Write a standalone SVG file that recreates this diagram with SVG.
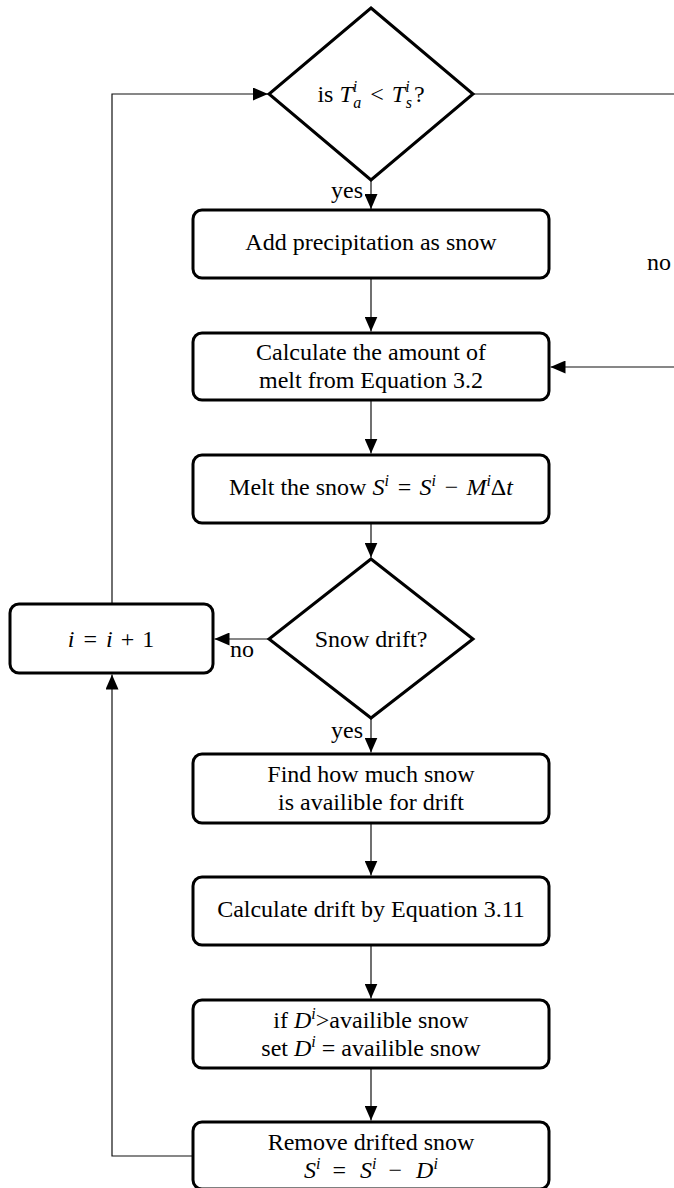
<svg xmlns="http://www.w3.org/2000/svg" width="674" height="1188" viewBox="0 0 674 1188">
  <style>
    .box { fill: #fff; stroke: #000; stroke-width: 3; }
    .dia { fill: #fff; stroke: #000; stroke-width: 3; stroke-linejoin: miter; }
    .edge { fill: none; stroke: #111; stroke-width: 1.2; }
    .t { font-family: "Liberation Serif", "Times New Roman", serif; font-size: 24px; fill: #000; }
    .c { text-anchor: middle; }
    .m { font-style: italic; }
    .s { font-style: italic; font-size: 16px; }
  </style>
  <defs>
    <marker id="arrow" markerUnits="userSpaceOnUse" markerWidth="15" markerHeight="13" refX="15" refY="6.5" orient="auto">
      <path d="M0,0 L15,6.5 L0,13 Z" fill="#000"/>
    </marker>
  </defs>
  <rect width="674" height="1188" fill="#fff"/>

  <!-- connectors -->
  <g id="connectors">
    <path class="edge" d="M371,180 V209" marker-end="url(#arrow)"/>
    <path class="edge" d="M371,278 V331.5" marker-end="url(#arrow)"/>
    <path class="edge" d="M371,400 V453.5" marker-end="url(#arrow)"/>
    <path class="edge" d="M371,523 V557.5" marker-end="url(#arrow)"/>
    <path class="edge" d="M371,718 V752.5" marker-end="url(#arrow)"/>
    <path class="edge" d="M371,823 V875.5" marker-end="url(#arrow)"/>
    <path class="edge" d="M371,945 V998.5" marker-end="url(#arrow)"/>
    <path class="edge" d="M371,1068 V1120.5" marker-end="url(#arrow)"/>
    <!-- "no" branch of the temperature test: leaves to the right, re-enters at the melt step -->
    <path class="edge" d="M473,94 H700 V367 H550.5" marker-end="url(#arrow)"/>
    <!-- no drift: go to the index update -->
    <path class="edge" d="M269,639 H214.5" marker-end="url(#arrow)"/>
    <!-- loop back to the top test -->
    <path class="edge" d="M112,604 V94 H268" marker-end="url(#arrow)"/>
    <!-- after removing drift: back to index update -->
    <path class="edge" d="M193,1156 H112 V674.5" marker-end="url(#arrow)"/>
    <text class="t" x="363" y="198" text-anchor="end">yes</text>
    <text class="t" x="363" y="738" text-anchor="end">yes</text>
    <text class="t" x="230" y="657">no</text>
    <text class="t" x="647" y="270">no</text>
  </g>

  <!-- temperature test -->
  <g id="test-temp">
    <polygon class="dia" points="371,8 473,94 371,180 269,94"/>
    <text class="t c" x="371" y="102">is <tspan class="m">T</tspan><tspan class="s" dy="-10">i</tspan><tspan class="s" dx="-4" dy="16">a</tspan><tspan dy="-6" dx="3"> &lt; </tspan><tspan class="m" dx="2">T</tspan><tspan class="s" dy="-10">i</tspan><tspan class="s" dx="-4" dy="16">s</tspan><tspan dy="-6" dx="2">?</tspan></text>
  </g>

  <g id="add-precip">
    <rect class="box" x="193" y="210" width="356" height="68" rx="9"/>
    <text class="t c" x="371" y="250">Add precipitation as snow</text>
  </g>

  <g id="calc-melt">
    <rect class="box" x="193" y="333" width="356" height="67" rx="9"/>
    <text class="t c" x="371" y="360">Calculate the amount of</text>
    <text class="t c" x="371" y="388">melt from Equation 3.2</text>
  </g>

  <g id="melt-snow">
    <rect class="box" x="193" y="455" width="356" height="68" rx="9"/>
    <text class="t c" x="371" y="495">Melt the snow <tspan class="m">S</tspan><tspan class="s" dy="-9">i</tspan><tspan dy="9" dx="3"> = </tspan><tspan class="m" dx="2">S</tspan><tspan class="s" dy="-9">i</tspan><tspan dy="9" dx="3"> − </tspan><tspan class="m" dx="2">M</tspan><tspan class="s" dy="-9">i</tspan><tspan dy="9">Δ</tspan><tspan class="m">t</tspan></text>
  </g>

  <g id="test-drift">
    <polygon class="dia" points="371,559 473,639 371,718 269,639"/>
    <text class="t c" x="371" y="647">Snow drift?</text>
  </g>

  <g id="increment">
    <rect class="box" x="10" y="604" width="203" height="69" rx="9"/>
    <text class="t c" x="111" y="647"><tspan class="m">i</tspan><tspan dx="3"> = </tspan><tspan class="m" dx="3">i</tspan><tspan dx="2"> + </tspan><tspan dx="2">1</tspan></text>
  </g>

  <g id="find-available">
    <rect class="box" x="193" y="754" width="356" height="69" rx="9"/>
    <text class="t c" x="371" y="782">Find how much snow</text>
    <text class="t c" x="371" y="810">is availible for drift</text>
  </g>

  <g id="calc-drift">
    <rect class="box" x="193" y="877" width="356" height="68" rx="9"/>
    <text class="t c" x="371" y="917">Calculate drift by Equation 3.11</text>
  </g>

  <g id="limit-drift">
    <rect class="box" x="193" y="1000" width="356" height="68" rx="9"/>
    <text class="t c" x="371" y="1028">if <tspan class="m">D</tspan><tspan class="s" dy="-9">i</tspan><tspan dy="9">&gt;availible snow</tspan></text>
    <text class="t c" x="371" y="1056">set <tspan class="m">D</tspan><tspan class="s" dy="-9">i</tspan><tspan dy="9"> = availible snow</tspan></text>
  </g>

  <g id="remove-drift">
    <rect class="box" x="193" y="1122" width="356" height="67" rx="9"/>
    <text class="t c" x="371" y="1150">Remove drifted snow</text>
    <text class="t c" x="371" y="1178"><tspan class="m">S</tspan><tspan class="s" dy="-9">i</tspan><tspan dy="9" dx="12">=</tspan><tspan class="m" dx="14">S</tspan><tspan class="s" dy="-9">i</tspan><tspan dy="9" dx="12">−</tspan><tspan class="m" dx="14">D</tspan><tspan class="s" dy="-9">i</tspan></text>
  </g>
</svg>
